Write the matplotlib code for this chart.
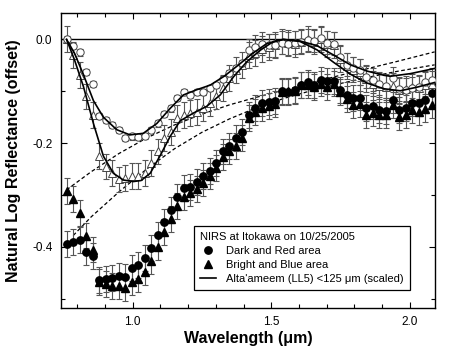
import matplotlib
matplotlib.use("Agg")
from matplotlib import pyplot as plt

plt.rcParams['font.family'] = ['Liberation Sans', 'DejaVu Sans']
plt.rcParams['axes.unicode_minus'] = False

# NIRS channel wavelengths (um)
wavelength = [0.761, 0.785, 0.808, 0.832, 0.855, 0.879, 0.902, 0.926, 0.949, 0.973,
              0.996, 1.020, 1.043, 1.067, 1.090, 1.114, 1.138, 1.161, 1.185, 1.208,
              1.232, 1.255, 1.279, 1.302, 1.326, 1.349, 1.373, 1.396, 1.420, 1.443,
              1.467, 1.491, 1.514, 1.538, 1.561, 1.585, 1.608, 1.632, 1.655, 1.679,
              1.702, 1.726, 1.749, 1.773, 1.797, 1.820, 1.844, 1.867, 1.891, 1.914,
              1.938, 1.961, 1.985, 2.008, 2.032, 2.055, 2.079]

# Dark and Red area (filled circles)
dark_red = [-0.395, -0.390, -0.386, -0.410, -0.417,
            -0.463, -0.462, -0.460, -0.456, -0.458, -0.440, -0.435, -0.421, -0.402, -0.377,
            -0.351, -0.328, -0.304, -0.287, -0.285, -0.274, -0.264, -0.253, -0.238, -0.216,
            -0.205, -0.190, -0.178, -0.146, -0.133, -0.123, -0.121, -0.119, -0.099, -0.101,
            -0.097, -0.088, -0.083, -0.088, -0.078, -0.081, -0.080, -0.097, -0.107, -0.113,
            -0.112, -0.133, -0.129, -0.136, -0.138, -0.117, -0.136, -0.133, -0.122, -0.123,
            -0.117, -0.103]

# Bright and Blue area (filled triangles)
bright_blue = [-0.292, -0.308, -0.334, -0.378, -0.405,
               -0.468, -0.472, -0.475, -0.476, -0.479, -0.468, -0.462, -0.448, -0.428, -0.400,
               -0.371, -0.347, -0.322, -0.304, -0.296, -0.288, -0.277, -0.263, -0.248, -0.226,
               -0.216, -0.206, -0.190, -0.152, -0.139, -0.133, -0.129, -0.124, -0.101, -0.099,
               -0.099, -0.088, -0.088, -0.092, -0.085, -0.091, -0.085, -0.101, -0.115, -0.126,
               -0.124, -0.145, -0.142, -0.145, -0.145, -0.126, -0.149, -0.145, -0.137, -0.139,
               -0.135, -0.126]

# continuum-removed spectra (open symbols)
dark_red_cr = [0.000, -0.013, -0.025, -0.063, -0.086,
               -0.148, -0.155, -0.165, -0.174, -0.190, -0.187, -0.188, -0.186, -0.174, -0.162,
               -0.144, -0.133, -0.113, -0.101, -0.107, -0.101, -0.101, -0.094, -0.088, -0.077,
               -0.065, -0.056, -0.046, -0.021, -0.014, -0.008, -0.011, -0.011, -0.006, -0.008,
               -0.006, -0.004, -0.001, -0.003, 0.002, -0.006, -0.008, -0.033, -0.049, -0.056,
               -0.059, -0.072, -0.078, -0.085, -0.090, -0.075, -0.096, -0.097, -0.094, -0.092,
               -0.083, -0.078]

bright_blue_cr = [0.000, -0.030, -0.069, -0.110, -0.146,
                  -0.225, -0.245, -0.258, -0.270, -0.267, -0.263, -0.264, -0.258, -0.238, -0.216,
                  -0.190, -0.178, -0.152, -0.146, -0.142, -0.139, -0.133, -0.123, -0.110, -0.094,
                  -0.075, -0.059, -0.049, -0.030, -0.027, -0.019, -0.014, -0.011, -0.004, -0.006,
                  -0.009, -0.004, 0.000, -0.004, 0.000, -0.008, -0.011, -0.037, -0.051, -0.058,
                  -0.062, -0.077, -0.085, -0.090, -0.092, -0.090, -0.097, -0.096, -0.092, -0.094,
                  -0.088, -0.085]

# error bar half sizes
err_dark = 0.025
err_bright = 0.025
err_bright_cr = 0.025
err_dark_cr = [0.006, 0.006, 0.006, 0.006, 0.006, 0.006, 0.006, 0.006, 0.006, 0.006,
               0.006, 0.006, 0.006, 0.006, 0.006, 0.006, 0.006, 0.006, 0.006, 0.006,
               0.006, 0.006, 0.006, 0.006, 0.006, 0.006, 0.006, 0.006, 0.022, 0.022,
               0.022, 0.022, 0.022, 0.022, 0.022, 0.022, 0.022, 0.022, 0.022, 0.022,
               0.022, 0.022, 0.022, 0.022, 0.022, 0.022, 0.022, 0.022, 0.022, 0.022,
               0.022, 0.022, 0.022, 0.022, 0.022, 0.022, 0.022]

# Alta'ameem (LL5) scaled spectra
alta_x1 = [0.761, 0.790, 0.822, 0.858, 0.894, 0.942, 0.990, 1.038, 1.087, 1.135, 1.183,
           1.231, 1.280, 1.330, 1.380, 1.430, 1.484, 1.544, 1.604, 1.665, 1.725, 1.786,
           1.846, 1.906, 1.930, 2.002, 2.090]
alta_y1 = [0.000, -0.027, -0.068, -0.118, -0.150, -0.174, -0.184, -0.181, -0.162, -0.133, -0.107,
           -0.097, -0.088, -0.071, -0.050, -0.028, -0.008, 0.000, -0.003, -0.012, -0.030, -0.049,
           -0.061, -0.069, -0.071, -0.066, -0.056]

alta_x2 = [0.761, 0.790, 0.822, 0.858, 0.894, 0.930, 0.966, 1.002, 1.030, 1.063, 1.099,
           1.135, 1.171, 1.219, 1.267, 1.316, 1.364, 1.412, 1.460, 1.508, 1.544, 1.604,
           1.665, 1.725, 1.786, 1.846, 1.906, 1.966, 2.027, 2.090]
alta_y2 = [0.000, -0.040, -0.091, -0.162, -0.225, -0.258, -0.271, -0.274, -0.272, -0.258, -0.224,
           -0.187, -0.157, -0.142, -0.129, -0.107, -0.072, -0.043, -0.021, -0.004, 0.000, -0.004,
           -0.020, -0.044, -0.067, -0.084, -0.095, -0.099, -0.092, -0.083]

# continua (dashed)
cont_x1 = [0.761, 0.85, 0.95, 1.05, 1.15, 1.25, 1.35, 1.45, 1.55, 1.65, 1.75, 1.85, 1.95, 2.09]
cont_y1 = [-0.290, -0.255, -0.220, -0.190, -0.165, -0.144, -0.126, -0.111, -0.097, -0.083,
           -0.069, -0.056, -0.043, -0.024]
cont_x2 = [0.785, 0.85, 0.95, 1.05, 1.15, 1.25, 1.35, 1.45, 1.55, 1.65, 1.75, 1.85, 1.95, 2.09]
cont_y2 = [-0.378, -0.342, -0.294, -0.250, -0.211, -0.179, -0.153, -0.131, -0.113, -0.098,
           -0.085, -0.073, -0.062, -0.049]

fig = plt.figure(figsize=(4.5, 3.55), dpi=100)
ax = fig.add_axes([0.135, 0.132, 0.832, 0.830])

ax.axhline(0.0, color='black', lw=1.0, zorder=1)

ax.plot(cont_x1, cont_y1, color='black', lw=0.9, dashes=(3, 2), zorder=2)
ax.plot(cont_x2, cont_y2, color='black', lw=0.9, dashes=(3, 2), zorder=2)

ebar = dict(fmt='none', ecolor='#555555', elinewidth=0.8, capsize=2.5, capthick=0.8, zorder=3)
ax.errorbar(wavelength, bright_blue_cr, yerr=err_bright_cr, **ebar)
ax.errorbar(wavelength, dark_red_cr, yerr=err_dark_cr, **ebar)
ax.errorbar(wavelength, bright_blue, yerr=err_bright, **ebar)
ax.errorbar(wavelength, dark_red, yerr=err_dark, **ebar)

ax.plot(wavelength, bright_blue_cr, '^', ms=5.3, mfc='white', mec='#444444', mew=0.7, zorder=4)
ax.plot(wavelength, dark_red_cr, 'o', ms=5.3, mfc='white', mec='#444444', mew=0.7, zorder=4)
ax.plot(wavelength, bright_blue, '^', ms=5.3, color='black', zorder=5,
        label='Bright and Blue area')
ax.plot(wavelength, dark_red, 'o', ms=5.3, color='black', zorder=5,
        label='Dark and Red area')

ax.plot(alta_x1, alta_y1, color='black', lw=1.2, zorder=6,
        label="Alta'ameem (LL5) <125 \u03bcm (scaled)")
ax.plot(alta_x2, alta_y2, color='black', lw=1.2, zorder=6)

ax.set_xlim(0.74, 2.092)
ax.set_ylim(-0.518, 0.05)
ax.set_xticks([1.0, 1.5, 2.0])
ax.set_xticklabels(['1.0', '1.5', '2.0'])
ax.set_xticks([0.8, 0.9, 1.1, 1.2, 1.3, 1.4, 1.6, 1.7, 1.8, 1.9], minor=True)
ax.set_yticks([0.0, -0.2, -0.4])
ax.set_yticklabels(['0.0', '-0.2', '-0.4'])
ax.set_yticks([-0.1, -0.3, -0.5], minor=True)
ax.tick_params(which='both', direction='in', top=True, right=True, labelsize=8.5, width=0.8)
ax.tick_params(which='major', length=4, pad=6)
ax.tick_params(which='minor', length=3)
for s in ax.spines.values():
    s.set_linewidth(1.0)

ax.set_xlabel('Wavelength (\u03bcm)', fontsize=11.5, fontweight='bold', labelpad=2)
ax.set_ylabel('Natural Log Reflectance (offset)', fontsize=11.5, fontweight='bold', labelpad=8)

handles, labels = ax.get_legend_handles_labels()
order = [1, 0, 2]
leg = ax.legend([handles[i] for i in order], [labels[i] for i in order],
                title='NIRS at Itokawa on 10/25/2005', alignment='left',
                loc='lower right', bbox_to_anchor=(0.947, 0.044), fontsize=8,
                title_fontsize=8, frameon=True, fancybox=False, edgecolor='black',
                framealpha=1, handlelength=1.4, labelspacing=0.35, borderpad=0.55,
                handletextpad=0.9)
leg.get_frame().set_linewidth(0.9)

fig.savefig('out.png', dpi=100)
